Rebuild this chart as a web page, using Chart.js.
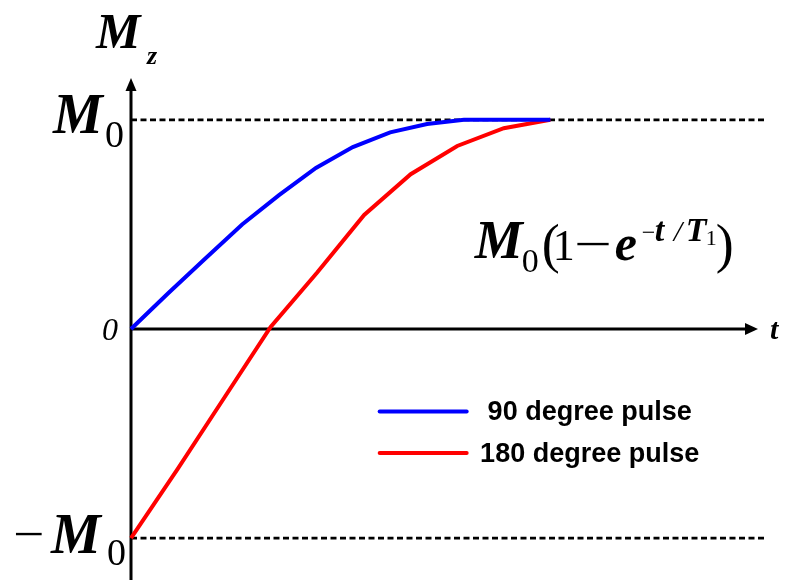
<!DOCTYPE html>
<html>
<head>
<meta charset="utf-8">
<script src="https://cdn.jsdelivr.net/npm/chart.js@4.4.1/dist/chart.umd.min.js"></script>
<style>
  html, body { margin: 0; padding: 0; background: #ffffff; }
  #wrap { width: 790px; height: 585px; position: relative; }
</style>
</head>
<body>
<div id="wrap"><canvas id="c" width="790" height="585"></canvas></div>
<script>
// ---- data ----
const tBlue  = [0, 0.88, 1.76, 2.65, 3.53, 4.41, 5.29, 6.18, 7.06, 7.94, 10];
const mzBlue = [0, 0.17, 0.335, 0.50, 0.64, 0.77, 0.87, 0.94, 0.98, 1.0, 1.0];
const tRed   = [0, 1.11, 2.22, 3.33, 4.44, 5.56, 6.67, 7.78, 8.89, 10];
const mzRed  = [-1, -0.67, -0.33, 0.01, 0.27, 0.545, 0.74, 0.875, 0.96, 1.0];
const seriesLabels = ['90 degree pulse', '180 degree pulse'];
const seriesColors = ['#0000ff', '#ff0000'];
const refLevels = [1, -1];          // M0 and -M0
const axisTitleY = ['M', 'z'];
const axisTitleX = 't';
const zeroLabel = '0';
const formulaPos = { t: 8.2, mz: 0.34 };
const legendPos = { t: 5.93, mz: -0.395 };

function pts(xs, ys) { return xs.map((x, i) => ({ x: x, y: ys[i] })); }

const SERIF = '"Liberation Serif", "Times New Roman", serif';
const SANS = '"Liberation Sans", Arial, sans-serif';

function txt(ctx, s, x, y, font, align) {
  ctx.font = font;
  ctx.textAlign = align || 'left';
  ctx.textBaseline = 'alphabetic';
  ctx.fillText(s, x, y);
  return ctx.measureText(s).width;
}

const decor = {
  id: 'decor',
  beforeDatasetsDraw(chart) {
    const ctx = chart.ctx;
    const xs = chart.scales.x, ys = chart.scales.y;
    const x0 = xs.getPixelForValue(0);
    const y0 = ys.getPixelForValue(0);
    const area = chart.chartArea;
    ctx.save();
    // dashed reference lines
    ctx.strokeStyle = '#000';
    ctx.lineWidth = 2.6;
    ctx.setLineDash([6, 3.5]);
    refLevels.forEach(v => {
      const yp = ys.getPixelForValue(v);
      ctx.beginPath();
      ctx.moveTo(x0, yp);
      ctx.lineTo(area.right + 6, yp);
      ctx.stroke();
    });
    ctx.setLineDash([]);
    // axes
    ctx.lineWidth = 3;
    ctx.beginPath();
    ctx.moveTo(x0, area.bottom);
    ctx.lineTo(x0, area.top + 10);
    ctx.stroke();
    ctx.beginPath();
    ctx.moveTo(x0, y0);
    ctx.lineTo(area.right - 10, y0);
    ctx.stroke();
    ctx.fillStyle = '#000';
    // arrowheads
    ctx.beginPath();
    ctx.moveTo(x0, area.top);
    ctx.lineTo(x0 - 5.5, area.top + 13);
    ctx.lineTo(x0 + 5.5, area.top + 13);
    ctx.closePath();
    ctx.fill();
    ctx.beginPath();
    ctx.moveTo(area.right - 2, y0);
    ctx.lineTo(area.right - 15, y0 - 6);
    ctx.lineTo(area.right - 15, y0 + 6);
    ctx.closePath();
    ctx.fill();
    ctx.restore();
  },
  afterDatasetsDraw(chart) {
    const ctx = chart.ctx;
    const xs = chart.scales.x, ys = chart.scales.y;
    const x0 = xs.getPixelForValue(0);
    const y0 = ys.getPixelForValue(0);
    const y1 = ys.getPixelForValue(1);
    const ym1 = ys.getPixelForValue(-1);
    const area = chart.chartArea;
    ctx.save();
    ctx.fillStyle = '#000';
    // axis title Mz
    txt(ctx, axisTitleY[0], x0 - 35, area.top - 30, 'italic bold 50px ' + SERIF);
    txt(ctx, axisTitleY[1], x0 + 16, area.top - 14, 'italic bold 26px ' + SERIF);
    // M0 tick label
    txt(ctx, 'M', x0 - 78, y1 + 13, 'italic bold 56px ' + SERIF);
    txt(ctx, '0', x0 - 26, y1 + 27, '38px ' + SERIF);
    // 0 tick label
    txt(ctx, zeroLabel, x0 - 13, y0 + 11, 'italic 32px ' + SERIF, 'right');
    // -M0 tick label
    ctx.save();
    ctx.translate(x0 - 118, 0);
    ctx.scale(1.15, 1);
    txt(ctx, '\u2212', 0, ym1 + 12, '48px ' + SERIF);
    ctx.restore();
    txt(ctx, 'M', x0 - 80, ym1 + 15, 'italic bold 56px ' + SERIF);
    txt(ctx, '0', x0 - 24, ym1 + 27, '38px ' + SERIF);
    // t axis title
    txt(ctx, axisTitleX, area.right + 10, y0 + 10, 'italic bold 30px ' + SERIF);
    // formula
    const fx = xs.getPixelForValue(formulaPos.t);
    const fy = ys.getPixelForValue(formulaPos.mz);
    txt(ctx, 'M', fx, fy, 'italic bold 54px ' + SERIF);
    txt(ctx, '0', fx + 47, fy + 14, '34px ' + SERIF);
    txt(ctx, '(', fx + 67, fy + 4, '54px ' + SERIF);
    txt(ctx, '1', fx + 78, fy + 2, '44px ' + SERIF);
    ctx.save();
    ctx.translate(fx + 99, 0);
    ctx.scale(1.4, 1);
    txt(ctx, '\u2212', 0, fy + 2, '48px ' + SERIF);
    ctx.restore();
    txt(ctx, 'e', fx + 140, fy + 2, 'italic bold 50px ' + SERIF);
    const sy = fy - 17;
    txt(ctx, '\u2212', fx + 167, sy - 1, '24px ' + SERIF);
    txt(ctx, 't', fx + 180, sy, 'italic bold 34px ' + SERIF);
    txt(ctx, '/', fx + 199, sy, 'italic 30px ' + SERIF);
    txt(ctx, 'T', fx + 211, sy, 'italic bold 34px ' + SERIF);
    txt(ctx, '1', fx + 231, sy + 4, '22px ' + SERIF);
    txt(ctx, ')', fx + 241, fy + 4, '54px ' + SERIF);
    // legend
    const lx = xs.getPixelForValue(legendPos.t);
    let ly = ys.getPixelForValue(legendPos.mz);
    chart.data.datasets.forEach((ds, i) => {
      ctx.strokeStyle = ds.borderColor;
      ctx.lineWidth = 4;
      ctx.lineCap = 'round';
      ctx.beginPath();
      ctx.moveTo(lx, ly);
      ctx.lineTo(lx + 87, ly);
      ctx.stroke();
      ctx.fillStyle = '#000';
      ctx.font = 'bold 27px ' + SANS;
      ctx.textAlign = 'center';
      ctx.textBaseline = 'middle';
      ctx.fillText(ds.label, lx + 210, ly + 1);
      ly += 41.5;
    });
    ctx.restore();
  }
};

function build() {
  new Chart(document.getElementById('c'), {
    type: 'scatter',
    data: {
      datasets: [
        { label: seriesLabels[0], data: pts(tBlue, mzBlue), showLine: true,
          borderColor: seriesColors[0], backgroundColor: seriesColors[0],
          borderWidth: 4, pointRadius: 0, tension: 0, clip: false },
        { label: seriesLabels[1], data: pts(tRed, mzRed), showLine: true,
          borderColor: seriesColors[1], backgroundColor: seriesColors[1],
          borderWidth: 4, pointRadius: 0, tension: 0, clip: false }
      ]
    },
    options: {
      responsive: false,
      animation: false,
      layout: { padding: { left: 131, right: 30, top: 78, bottom: 5 } },
      plugins: { legend: { display: false }, tooltip: { enabled: false } },
      scales: {
        x: { type: 'linear', min: 0, max: 15, display: false },
        y: { type: 'linear', min: -1.2, max: 1.2, display: false }
      }
    },
    plugins: [decor]
  });
}

const fontLoads = [
  'italic bold 50px "Liberation Serif"', '50px "Liberation Serif"',
  'italic 30px "Liberation Serif"', 'bold 27px "Liberation Sans"'
].map(f => document.fonts.load(f).catch(() => null));
Promise.all(fontLoads).then(build, build);
</script>
</body>
</html>
